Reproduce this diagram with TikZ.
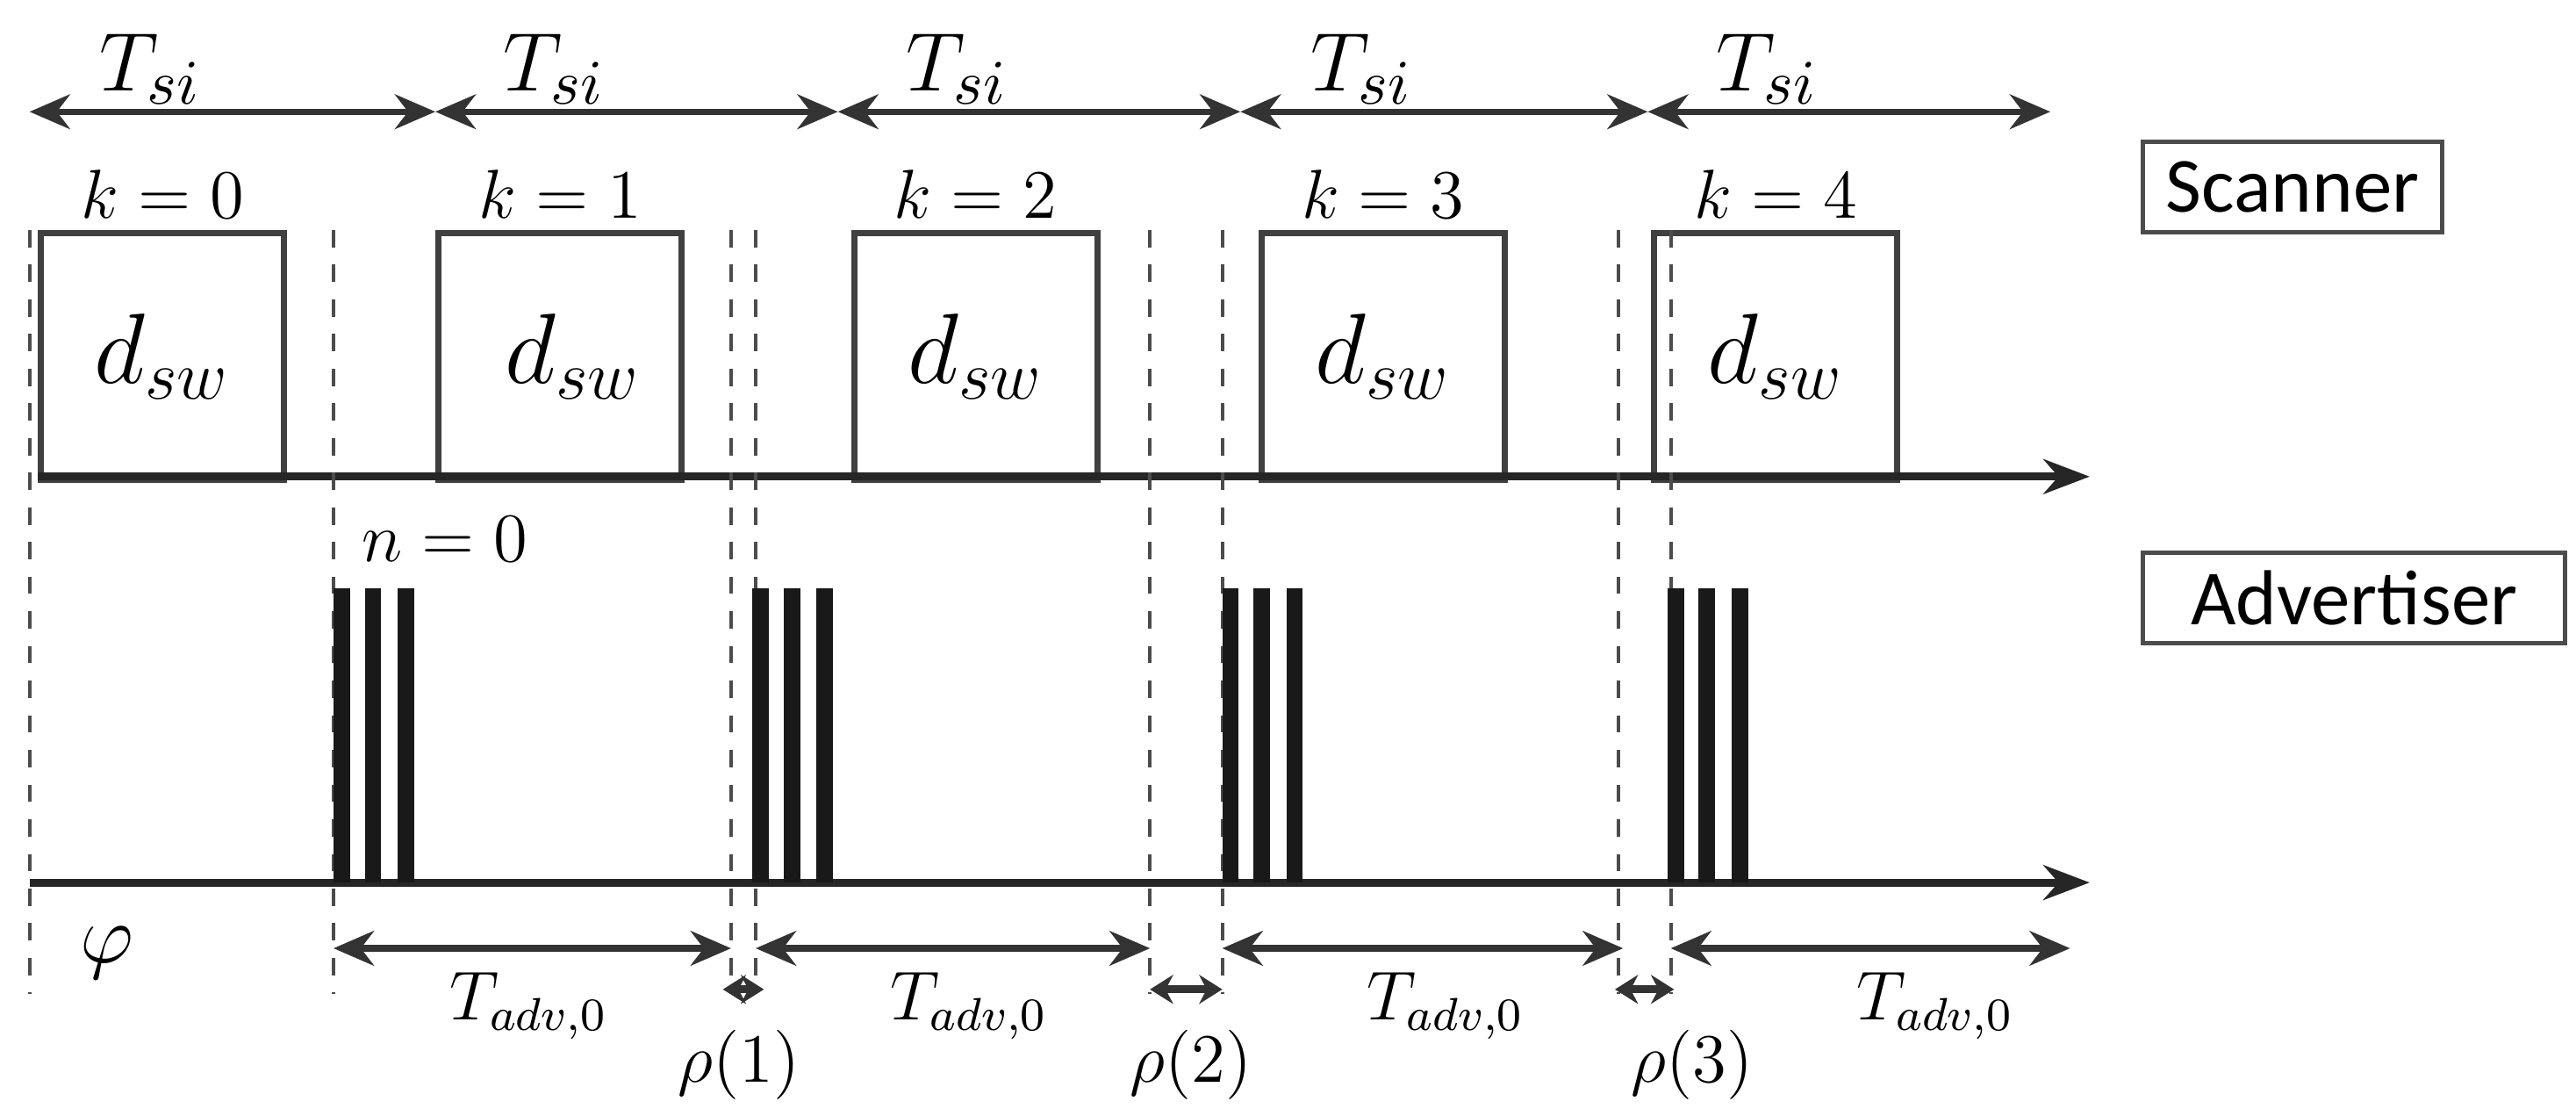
\documentclass[tikz,border=0pt]{standalone}
\usepackage{fontspec}
\setsansfont{Carlito}
\usetikzlibrary{arrows.meta}
\begin{document}
\begin{tikzpicture}[x=0.1mm,y=-0.1mm,
  ln/.style={line width=1.1pt,draw=black!80},
  dim/.style={ln,{Stealth[length=7pt,width=6pt]}-{Stealth[length=7pt,width=6pt]}},
  axis/.style={line width=1.4pt,draw=black!85,-{Stealth[length=8pt,width=6pt]}},
  box/.style={draw=black!75,line width=1.1pt,minimum width=14.8mm,minimum height=15mm,anchor=north west,inner sep=0pt},
  lbl/.style={draw=black!70,line width=0.8pt,font=\sffamily\fontsize{13.5}{16}\selectfont,anchor=north west,inner sep=0pt},
  dsh/.style={dashed,line width=0.6pt,draw=black!70},
  bar/.style={fill=black!90,draw=none},
  big/.style={font=\fontsize{15}{17}\selectfont},
  mid/.style={font=\fontsize{13}{15}\selectfont},
  sml/.style={font=\fontsize{12}{14}\selectfont}]
\useasboundingbox (0,0) rectangle (1568,679);
% top T_si arrows
\foreach \a/\b/\n in {18/265/1,265/510/2,510/755/3,755/1003/4,1003/1248/5}{
  \coordinate (ta\n) at (\a,68); \coordinate (tb\n) at (\b,68);
  \draw[dim] (ta\n) -- (tb\n);
  \node[big] (ts\n) at ({(\a+\b)/2-50},42) {$T_{si}$};
}
% labels
\node[lbl,minimum width=18.2mm,minimum height=5.5mm] (scan) at (1303,85) {Scanner};
\node[lbl,minimum width=25.7mm,minimum height=5.5mm] (adv) at (1303,335) {Advertiser};
% scanner boxes
\foreach \x/\k/\dx in {23/0/0,265/1/8,518/2/0,766/3/0,1005/4/0}{
  \node[box] (b\k) at (\x,140) {};
  \node[big,font=\fontsize{17}{19}\selectfont] (d\k) at ([xshift=\dx*0.1mm]b\k.center) {$d_{sw}$};
  \node[mid,anchor=south] (k\k) at ([yshift=-0.5mm]b\k.north) {$k=\k$};
}
\coordinate (s0) at (23,290); \coordinate (s1) at (1272,290);
\draw[axis] (s0) -- (s1);
% dashed lines
\foreach \x/\n in {18/0,203/1,445/2,460/3,700/4,744/5,985/6,1017/7}{
  \coordinate (dt\n) at (\x,140); \coordinate (db\n) at (\x,605);
  \draw[dsh] (dt\n) -- (db\n);
}
% advertiser axis
\coordinate (a0) at (18,537); \coordinate (a1) at (1272,537);
\draw[axis] (a0) -- (a1);
% pulses
\foreach \g in {203,458,744,1015}{
  \foreach \o in {0,19,39}{
    \fill[bar] (\g+\o,358) rectangle (\g+\o+10,537);
  }
}
\node[mid,anchor=west] (n0) at (208,328) {$n=0$};
% bottom arrows
\foreach \a/\b/\n in {203/445/1,460/700/2,744/988/3,1017/1260/4}{
  \coordinate (ba\n) at (\a,577); \coordinate (bb\n) at (\b,577);
  \draw[dim] (ba\n) -- (bb\n);
}
\foreach \x in {322,590,880,1178}{
  \node[sml] at (\x,612) {$T_{adv,0}$};
}
\foreach \a/\b/\n/\lx in {440/465/1/450,700/744/2/725,983/1019/3/1030}{
  \coordinate (ra\n) at (\a,602); \coordinate (rb\n) at (\b,602);
  \draw[ln,line width=1.4pt,{Stealth[length=4pt,width=5pt]}-{Stealth[length=4pt,width=5pt]}] (ra\n) -- (rb\n);
  \node[sml] (rho\n) at (\lx,648) {$\rho(\n)$};
}
\node[big] (phi) at (65,580) {$\varphi$};
\end{tikzpicture}
\end{document}
